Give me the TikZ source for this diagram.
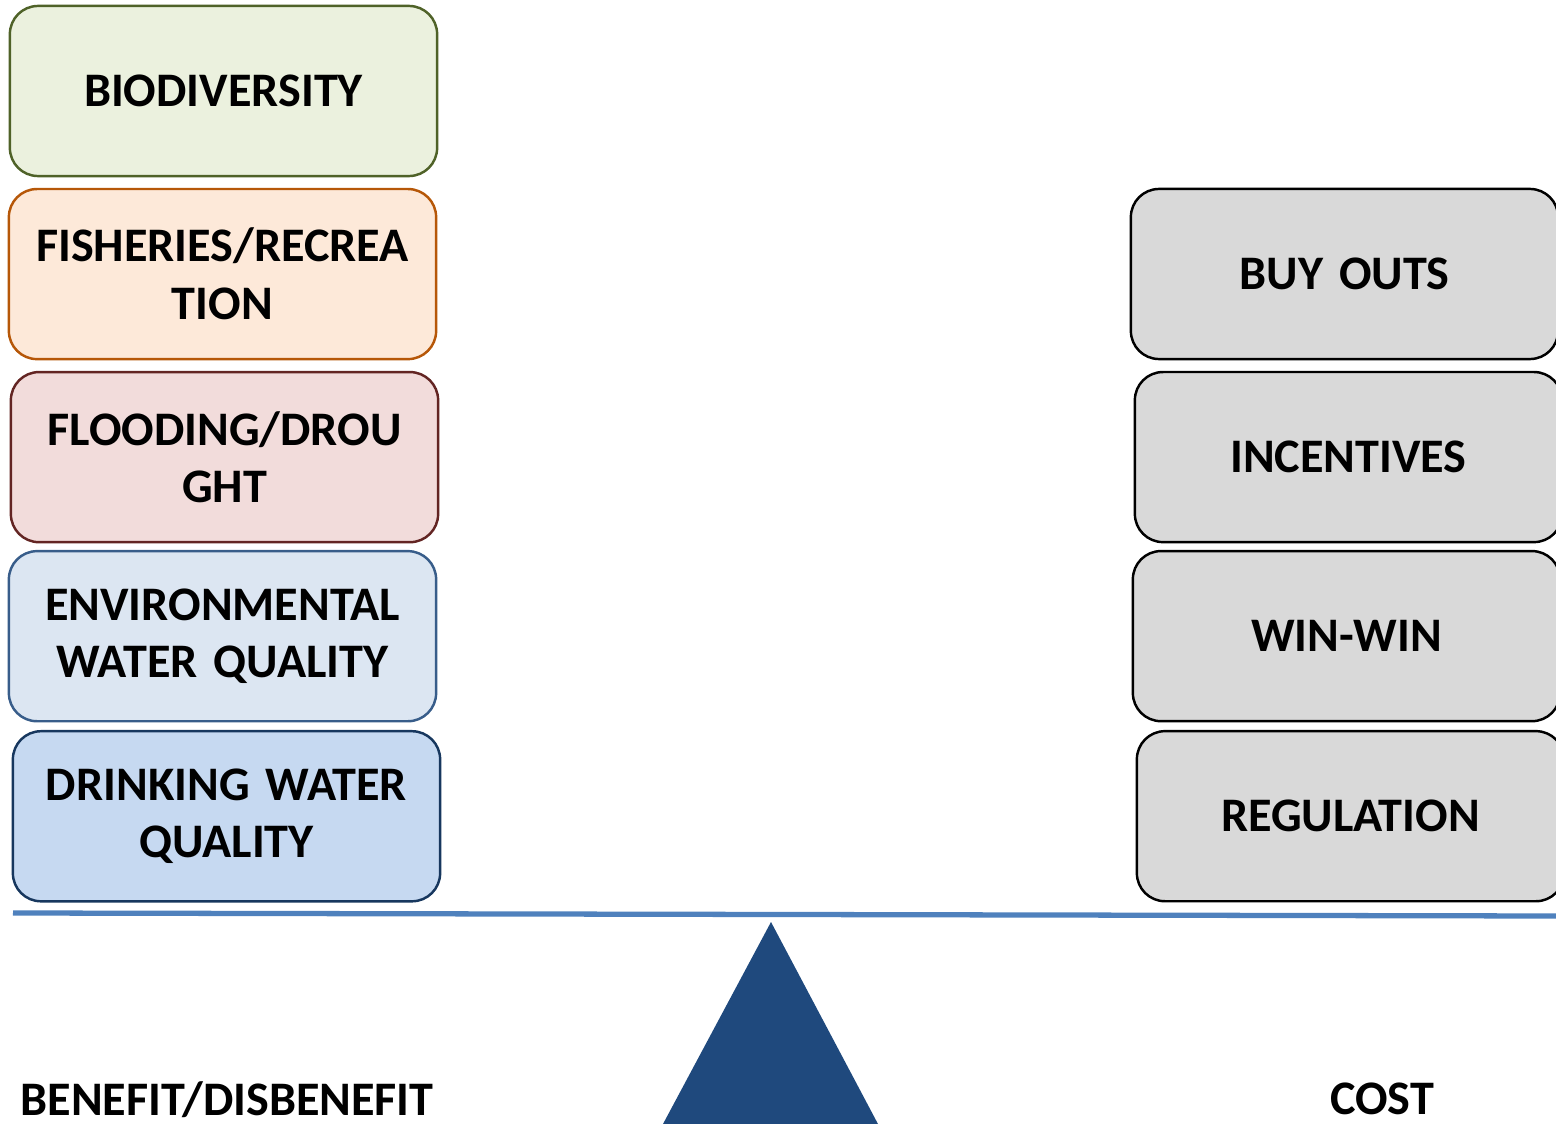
\documentclass[tikz,border=0pt]{standalone}
\usepackage{fontspec}
\setmainfont{Carlito}
\usepackage{xcolor}
\usetikzlibrary{positioning}

\definecolor{biofill}{HTML}{EBF1DE}
\definecolor{bioline}{HTML}{4F6228}
\definecolor{fishfill}{HTML}{FDE9D9}
\definecolor{fishline}{HTML}{B65708}
\definecolor{floodfill}{HTML}{F2DCDB}
\definecolor{floodline}{HTML}{632523}
\definecolor{envfill}{HTML}{DCE6F2}
\definecolor{envline}{HTML}{385D8A}
\definecolor{drinkfill}{HTML}{C6D9F1}
\definecolor{drinkline}{HTML}{17375E}
\definecolor{costfill}{HTML}{D9D9D9}
\definecolor{beamblue}{HTML}{4F81BD}
\definecolor{pivotblue}{HTML}{1F497D}

\begin{document}
\begin{tikzpicture}[x=0.01cm,y=-0.01cm]
\fontsize{13.7}{16.4}\selectfont

% used shapes
\tikzstyle{card} = [rectangle, draw, rounded corners = 8pt, line width=0.7pt, minimum width=4.27cm, minimum height=1.7cm, text width=3.8cm, align=center, font=\bfseries]
\tikzstyle{costcard} = [card, fill=costfill, draw=black]
\tikzstyle{caption} = [font=\bfseries, inner sep=0pt]

\useasboundingbox (0,0) rectangle (1556,1124);

% benefit side
\node [card, fill=biofill, draw=bioline] (bio) at (223.5,91) {BIODIVERSITY};

\node [card, fill=fishfill, draw=fishline, below = 0.105cm of bio, xshift=-0.01cm] (fish) {FISHERIES/RECREA\\TION};

\node [card, fill=floodfill, draw=floodline, below = 0.105cm of fish, xshift=0.02cm] (flood) {FLOODING/DROU\\GHT};

\node [card, fill=envfill, draw=envline, below = 0.065cm of flood, xshift=-0.02cm] (env) {ENVIRONMENTAL\\WATER QUALITY};

\node [card, fill=drinkfill, draw=drinkline, below = 0.075cm of env, xshift=0.04cm] (drink) {DRINKING WATER\\QUALITY};

% cost side
\node [costcard] (buy) at (1344.5,274) {BUY OUTS};

\node [costcard, below = 0.105cm of buy, xshift=0.04cm] (incent) {INCENTIVES};

\node [costcard, below = 0.065cm of incent, xshift=-0.02cm] (win) {WIN-WIN};

\node [costcard, below = 0.075cm of win, xshift=0.04cm] (reg) {REGULATION};

% beam and pivot
\draw [beamblue, line width=1.5pt] (13,913) -- (1556,916);
\fill [pivotblue] (771,922) -- (878,1124) -- (663,1124) -- cycle;

\node [caption] (benefit) at (227,1100) {BENEFIT/DISBENEFIT};
\node [caption] (cost) at (1382,1099) {COST};

\end{tikzpicture}
\end{document}
